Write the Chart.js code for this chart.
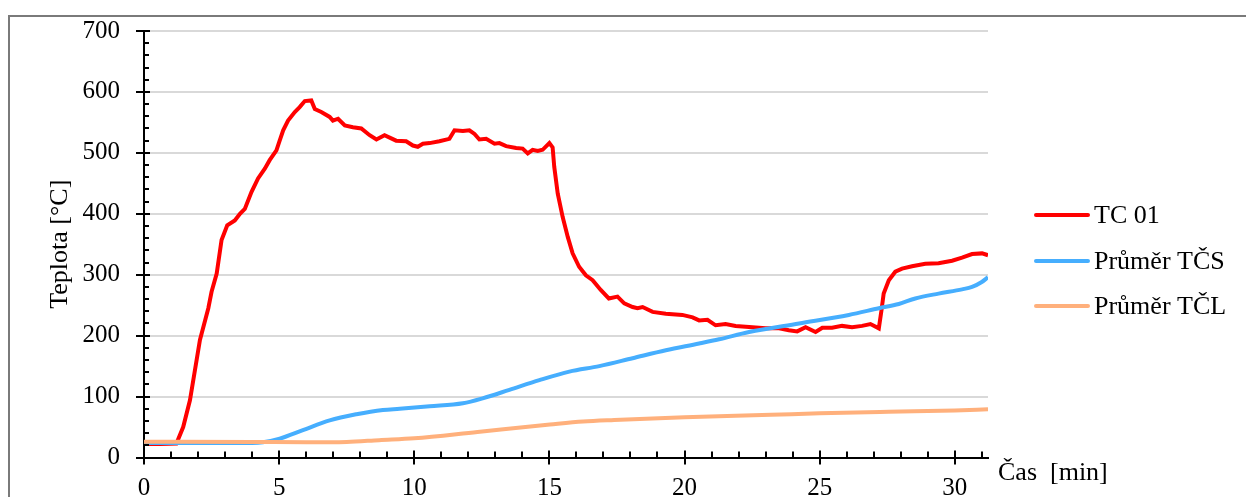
<!DOCTYPE html>
<html lang="cs">
<head>
<meta charset="utf-8">
<title>Teplota – TC 01, Průměr TČS, Průměr TČL</title>
<script src="https://cdn.jsdelivr.net/npm/chart.js@4.4.1/dist/chart.umd.min.js"></script>
<style>
  html, body { margin: 0; padding: 0; background: #fff; }
  #wrap { position: relative; width: 1246px; height: 497px; }
</style>
</head>
<body>
<div id="wrap"><canvas id="c"></canvas></div>
<script>
// Series: time [min] and temperature [°C]
const tcTime = [0, 0.6, 1.2, 1.45, 1.7, 2.07, 2.38, 2.5, 2.69, 2.87, 3.08, 3.36, 3.55, 3.73, 3.98, 4.22, 4.47, 4.65, 4.9, 5.02,
  5.15, 5.33, 5.58, 5.76, 5.95, 6.19, 6.32, 6.56, 6.87, 6.99, 7.18, 7.43, 7.73, 8.04, 8.35, 8.6, 8.9, 9.33, 9.7, 9.95,
  10.13, 10.32, 10.57, 10.93, 11.3, 11.49, 11.8, 12.04, 12.23, 12.41, 12.66, 12.97, 13.15, 13.4, 13.77, 14.01, 14.2, 14.38, 14.57, 14.75,
  15.0, 15.12, 15.18, 15.31, 15.49, 15.68, 15.86, 16.1, 16.35, 16.6, 16.9, 17.2, 17.52, 17.77, 18.08, 18.26, 18.45, 18.82, 19.31, 19.92,
  20.3, 20.54, 20.85, 21.15, 21.52, 21.89, 22.39, 23.0, 23.5, 23.86, 24.17, 24.48, 24.85, 25.1, 25.46, 25.83, 26.2, 26.57, 26.88, 27.19,
  27.29, 27.37, 27.56, 27.8, 28.05, 28.42, 28.91, 29.4, 29.9, 30.27, 30.64, 31.01, 31.23];
const tcTemp = [22, 22, 23, 50, 94, 193, 245, 272, 302, 357, 381, 389, 400, 408, 436, 458, 474, 488, 504, 520,
  537, 553, 567, 575, 585, 586, 572, 567, 559, 553, 556, 545, 542, 540, 529, 522, 529, 520, 519, 512,
  510, 515, 516, 519, 523, 537, 536, 537, 531, 522, 523, 515, 516, 511, 508, 507, 499, 505, 503, 505,
  516, 509, 477, 433, 395, 362, 335, 313, 299, 291, 275, 261, 264, 253, 247, 245, 247, 239, 236, 234,
  230, 225, 226, 217, 219, 216, 214, 212, 212, 209, 207, 214, 206, 213, 213, 216, 214, 216, 219, 212,
  242, 269, 291, 305, 310, 314, 318, 319, 323, 328, 334, 335, 332];

const tcsTime = [0, 2, 4.0, 4.4, 5.02, 5.88, 6.87, 7.86, 8.84, 9.46, 10.57, 11.8, 12.53, 13.52, 14.63, 15.74, 16.85, 18.08, 19.31, 20.54,
  21.28, 22.39, 24.24, 26.08, 27.19, 27.93, 28.54, 29.4, 30.27, 30.64, 31.0, 31.23];
const tcsTemp = [24, 24, 24, 25, 31, 45, 61, 71, 78, 80, 84, 89, 97, 111, 127, 141, 150, 163, 176, 187,
  194, 206, 220, 234, 245, 252, 261, 269, 276, 280, 288, 296];

const tclTime = [0, 4, 6, 7.5, 8.7, 10.0, 12.34, 15.02, 16.25, 17.4, 20, 23.2, 25, 27.55, 30, 31.23];
const tclTemp = [26, 25.5, 25, 25.5, 28.5, 31.5, 42, 54, 59, 61.5, 66, 70, 72.5, 75, 77, 79];

const seriesNames = ['TC 01', 'Průměr TČS', 'Průměr TČL'];
const seriesColors = ['#ff0000', '#46aefe', '#ffb07c'];

const xTicks = [0, 5, 10, 15, 20, 25, 30];
const yTicks = [0, 100, 200, 300, 400, 500, 600, 700];
const xAxisTitle = 'Čas  [min]';
const yAxisTitle = 'Teplota [°C]';

const FONT = '"Liberation Serif", "Times New Roman", serif';

function toPoints(xs, ys) { return xs.map((x, i) => ({ x, y: ys[i] })); }

// Outer frame of the figure
const framePlugin = {
  id: 'frame',
  beforeDraw(chart) {
    const ctx = chart.ctx;
    ctx.save();
    ctx.fillStyle = '#fff';
    ctx.fillRect(0, 0, chart.width, chart.height);
    ctx.strokeStyle = '#7a7a7a';
    ctx.lineWidth = 2;
    ctx.strokeRect(9, 16, chart.width + 20, chart.height + 20);
    ctx.restore();
  }
};

// Major ticks crossing the axis, minor ticks on the inside
const tickMarksPlugin = {
  id: 'tickMarks',
  afterDraw(chart) {
    const { ctx, chartArea } = chart;
    const xs = chart.scales.x, ys = chart.scales.y;
    ctx.save();
    ctx.strokeStyle = '#000';
    ctx.lineWidth = 2;
    ctx.beginPath();
    for (let v = 0; v <= Math.floor(xs.max); v++) {
      const px = Math.round(xs.getPixelForValue(v));
      const major = xTicks.includes(v);
      ctx.moveTo(px, chartArea.bottom - (major ? 7 : 6));
      ctx.lineTo(px, chartArea.bottom + (major ? 7 : 0));
    }
    for (let v = 0; v <= ys.max; v += 20) {
      const py = Math.round(ys.getPixelForValue(v));
      const major = yTicks.includes(v);
      ctx.moveTo(chartArea.left - (major ? 8 : 0), py);
      ctx.lineTo(chartArea.left + (major ? 6 : 5), py);
    }
    ctx.stroke();
    ctx.restore();
  }
};

// Legend on the right and the time-axis caption next to the axis end
const sideTextPlugin = {
  id: 'sideText',
  afterDraw(chart) {
    const { ctx, chartArea } = chart;
    ctx.save();
    ctx.font = '26px ' + FONT;
    ctx.fillStyle = '#000';
    ctx.textBaseline = 'middle';
    const lx = chartArea.right + 48;
    const rows = [215, 261, 306];
    seriesNames.forEach((name, i) => {
      ctx.strokeStyle = seriesColors[i];
      ctx.lineWidth = 4;
      ctx.lineCap = 'round';
      ctx.beginPath();
      ctx.moveTo(lx, rows[i]);
      ctx.lineTo(lx + 52, rows[i]);
      ctx.stroke();
      ctx.fillText(name, lx + 58, rows[i] + 1);
    });
    ctx.textBaseline = 'alphabetic';
    ctx.fillText(xAxisTitle, chartArea.right + 10, 480);
    ctx.restore();
  }
};

const ds = (label, pts, color, order) => ({
  label,
  data: pts,
  borderColor: color,
  backgroundColor: color,
  borderWidth: 4,
  pointRadius: 0,
  tension: 0,
  fill: false,
  order
});

new Chart(document.getElementById('c'), {
  type: 'line',
  data: {
    datasets: [
      ds(seriesNames[0], toPoints(tcTime, tcTemp), seriesColors[0], 3),
      Object.assign(ds(seriesNames[1], toPoints(tcsTime, tcsTemp), seriesColors[1], 2), { cubicInterpolationMode: 'monotone' }),
      Object.assign(ds(seriesNames[2], toPoints(tclTime, tclTemp), seriesColors[2], 1), { cubicInterpolationMode: 'monotone' })
    ]
  },
  options: {
    responsive: true,
    maintainAspectRatio: false,
    animation: false,
    devicePixelRatio: 1,
    layout: { padding: { left: 0, top: 31, right: 258, bottom: 0 } },
    plugins: { legend: { display: false }, tooltip: { enabled: false } },
    scales: {
      x: {
        type: 'linear',
        min: 0,
        max: 31.23,
        afterFit: s => { s.height = 39.5; s.paddingLeft = 0; s.paddingRight = 0; },
        afterBuildTicks: s => { s.ticks = xTicks.map(v => ({ value: v })); },
        ticks: { color: '#000', font: { family: FONT, size: 25 }, padding: 16, maxRotation: 0, includeBounds: false },
        grid: { display: false, drawTicks: false },
        border: { display: true, color: '#000', width: 2 }
      },
      y: {
        min: 0,
        max: 700,
        afterFit: s => { s.width = 144; s.paddingTop = 0; s.paddingBottom = 0; },
        afterBuildTicks: s => { s.ticks = yTicks.map(v => ({ value: v })); },
        ticks: { color: '#000', font: { family: FONT, size: 25 }, padding: 24 },
        grid: { color: '#d9d9d9', lineWidth: 2, drawTicks: false },
        border: { display: true, color: '#000', width: 2 },
        title: { display: true, text: yAxisTitle, color: '#000', font: { family: FONT, size: 26 }, padding: { top: 45, bottom: 0 } }
      }
    }
  },
  plugins: [framePlugin, tickMarksPlugin, sideTextPlugin]
});
</script>
</body>
</html>
